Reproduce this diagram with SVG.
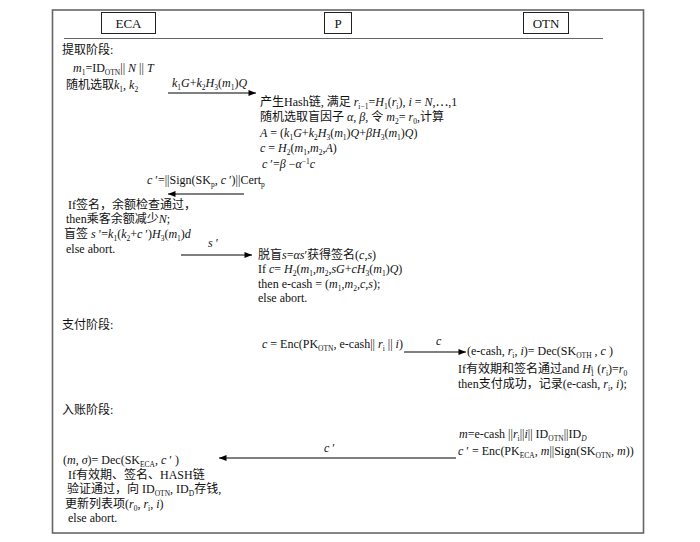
<svg xmlns="http://www.w3.org/2000/svg" width="700" height="542" viewBox="0 0 700 542">
<defs>
<marker id="ah" viewBox="0 0 10 8" refX="10" refY="4" markerWidth="9" markerHeight="6" orient="auto" markerUnits="userSpaceOnUse">
<path d="M0,0 L10,4 L0,8 Z" fill="#000"/>
</marker>
</defs>
<style>
text{font-family:"Liberation Serif","Noto Sans CJK SC",serif;font-size:12px;fill:#111}
.i{font-style:italic}
.b{baseline-shift:-2.5px;font-size:7.5px}
.p{baseline-shift:4.5px;font-size:7.5px}
.q{baseline-shift:3px;font-size:7px}
.hd{font-size:13px;text-anchor:middle}
.box{fill:#fff;stroke:#222;stroke-width:1}
.cn{stroke:#000;stroke-width:1;fill:none;marker-end:url(#ah)}
</style>
<rect x="0" y="0" width="700" height="542" fill="#fff"/>
<rect x="52.5" y="10" width="591" height="523" fill="none" stroke="#666" stroke-width="1.6"/>
<line x1="64" y1="38.5" x2="603" y2="38.5" stroke="#666" stroke-width="1"/>

<g id="ECA">
<rect class="box" x="101.5" y="12.5" width="54" height="21"/>
<text class="hd" x="128.5" y="28">ECA</text>
</g>
<g id="P">
<rect class="box" x="324.5" y="12.5" width="27" height="21"/>
<text class="hd" x="338" y="28">P</text>
</g>
<g id="OTN">
<rect class="box" x="523.5" y="12.5" width="45" height="21"/>
<text class="hd" x="546" y="28">OTN</text>
</g>

<g id="withdraw-eca">
<text x="62" y="54">提取阶段:</text>
<text x="73" y="72"><tspan class="i">m</tspan><tspan class="b">1</tspan>=ID<tspan class="b">OTN</tspan>|| <tspan class="i">N</tspan> || <tspan class="i">T</tspan></text>
<text x="66" y="89">随机选取<tspan class="i">k</tspan><tspan class="b">1</tspan>, <tspan class="i">k</tspan><tspan class="b">2</tspan></text>
</g>

<g id="withdraw-p">
<text x="260" y="106">产生Hash链, 满足 <tspan class="i">r</tspan><tspan class="b">i−1</tspan>=<tspan class="i">H</tspan><tspan class="b">1</tspan>(<tspan class="i">r</tspan><tspan class="b">i</tspan>), <tspan class="i">i</tspan> = <tspan class="i">N</tspan>,⋯,1</text>
<text x="260" y="121">随机选取盲因子 <tspan class="i">α</tspan>, <tspan class="i">β</tspan>, 令 <tspan class="i">m</tspan><tspan class="b">2</tspan>= <tspan class="i">r</tspan><tspan class="b">0</tspan>,计算</text>
<text x="260" y="137"><tspan class="i">A</tspan> = (<tspan class="i">k</tspan><tspan class="b">1</tspan><tspan class="i">G</tspan>+<tspan class="i">k</tspan><tspan class="b">2</tspan><tspan class="i">H</tspan><tspan class="b">3</tspan>(<tspan class="i">m</tspan><tspan class="b">1</tspan>)<tspan class="i">Q</tspan>+<tspan class="i">β</tspan><tspan class="i">H</tspan><tspan class="b">3</tspan>(<tspan class="i">m</tspan><tspan class="b">1</tspan>)<tspan class="i">Q</tspan>)</text>
<text x="260" y="152"><tspan class="i">c</tspan> = <tspan class="i">H</tspan><tspan class="b">2</tspan>(<tspan class="i">m</tspan><tspan class="b">1</tspan>,<tspan class="i">m</tspan><tspan class="b">2</tspan>,<tspan class="i">A</tspan>)</text>
<text x="262" y="168"><tspan class="i">c</tspan> ′=<tspan class="i">β</tspan> −<tspan class="i">α</tspan><tspan class="p">−1</tspan><tspan class="i">c</tspan></text>
</g>

<g id="sign-eca">
<text x="68" y="209">If签名，余额检查通过，</text>
<text x="66" y="223">then乘客余额减少<tspan class="i">N</tspan>;</text>
<text x="64" y="238">盲签 <tspan class="i">s</tspan> ′=<tspan class="i">k</tspan><tspan class="b">1</tspan>(<tspan class="i">k</tspan><tspan class="b">2</tspan>+<tspan class="i">c</tspan> ′)<tspan class="i">H</tspan><tspan class="b">3</tspan>(<tspan class="i">m</tspan><tspan class="b">1</tspan>)<tspan class="i">d</tspan></text>
<text x="66" y="253">else abort.</text>
</g>

<g id="unblind-p">
<text x="258" y="259">脱盲<tspan class="i">s</tspan>=<tspan class="i">αs</tspan>′获得签名(<tspan class="i">c</tspan>,<tspan class="i">s</tspan>)</text>
<text x="258" y="273">If <tspan class="i">c</tspan>= <tspan class="i">H</tspan><tspan class="b">2</tspan>(<tspan class="i">m</tspan><tspan class="b">1</tspan>,<tspan class="i">m</tspan><tspan class="b">2</tspan>,<tspan class="i">sG</tspan>+<tspan class="i">cH</tspan><tspan class="b">3</tspan>(<tspan class="i">m</tspan><tspan class="b">1</tspan>)<tspan class="i">Q</tspan>)</text>
<text x="258" y="288">then e-cash = (<tspan class="i">m</tspan><tspan class="b">1</tspan>,<tspan class="i">m</tspan><tspan class="b">2</tspan>,<tspan class="i">c</tspan>,<tspan class="i">s</tspan>);</text>
<text x="258" y="302">else abort.</text>
</g>

<g id="pay-p">
<text x="62" y="329">支付阶段:</text>
<text x="262" y="348"><tspan class="i">c</tspan> = Enc(PK<tspan class="b">OTN</tspan>, e-cash|| <tspan class="i">r</tspan><tspan class="b">i</tspan> || <tspan class="i">i</tspan>)</text>
</g>

<g id="pay-otn">
<text x="467" y="355">(e-cash, <tspan class="i">r</tspan><tspan class="b">i</tspan>, <tspan class="i">i</tspan>)= Dec(SK<tspan class="b">OTH</tspan> , <tspan class="i">c</tspan> )</text>
<text x="458" y="373">If有效期和签名通过and <tspan class="i">H</tspan><tspan class="q">i</tspan><tspan class="b" dx="-2.5">1</tspan> (<tspan class="i">r</tspan><tspan class="b">i</tspan>)=<tspan class="i">r</tspan><tspan class="b">0</tspan></text>
<text x="458" y="388">then支付成功，记录(e-cash, <tspan class="i">r</tspan><tspan class="b">i</tspan>, <tspan class="i">i</tspan>);</text>
</g>

<g id="deposit-otn">
<text x="62" y="414">入账阶段:</text>
<text x="459" y="438"><tspan class="i">m</tspan>=e-cash ||<tspan class="i">r</tspan><tspan class="b">i</tspan>||<tspan class="i">i</tspan>|| ID<tspan class="b">OTN</tspan>||ID<tspan class="b" font-style="italic">D</tspan></text>
<text x="458" y="455"><tspan class="i">c</tspan> ′ = Enc(PK<tspan class="b">ECA</tspan>, <tspan class="i">m</tspan>||Sign(SK<tspan class="b">OTN</tspan>, <tspan class="i">m</tspan>))</text>
</g>

<g id="deposit-eca">
<text x="63" y="464">(<tspan class="i">m</tspan>, <tspan class="i">σ</tspan>)= Dec(SK<tspan class="b">ECA</tspan>, <tspan class="i">c</tspan> ′ )</text>
<text x="68" y="479">If有效期、签名、HASH链</text>
<text x="67" y="493">验证通过，向 ID<tspan class="b">OTN</tspan>, ID<tspan class="b">D</tspan>存钱,</text>
<text x="65" y="508">更新列表项(<tspan class="i">r</tspan><tspan class="b">0</tspan>, <tspan class="i">r</tspan><tspan class="b">i</tspan>, <tspan class="i">i</tspan>)</text>
<text x="68" y="522">else abort.</text>
</g>

<g id="connectors">
<line class="cn" x1="168" y1="93" x2="256" y2="93"/>
<text x="172" y="87"><tspan class="i">k</tspan><tspan class="b">1</tspan><tspan class="i">G</tspan>+<tspan class="i">k</tspan><tspan class="b">2</tspan><tspan class="i">H</tspan><tspan class="b">3</tspan>(<tspan class="i">m</tspan><tspan class="b">1</tspan>)<tspan class="i">Q</tspan></text>
<line class="cn" x1="244" y1="194" x2="168" y2="194"/>
<text x="147" y="184"><tspan class="i">c</tspan> ′=||Sign(SK<tspan class="b">p</tspan>, <tspan class="i">c</tspan> ′)||Cert<tspan class="b">p</tspan></text>
<line class="cn" x1="181" y1="255" x2="252" y2="255"/>
<text x="208" y="247"><tspan class="i">s</tspan> ′</text>
<line class="cn" x1="404" y1="352" x2="466" y2="352"/>
<text x="436" y="345" class="i">c</text>
<line class="cn" x1="456" y1="458" x2="219" y2="458"/>
<text x="324" y="452"><tspan class="i">c</tspan> ′</text>
</g>
</svg>
